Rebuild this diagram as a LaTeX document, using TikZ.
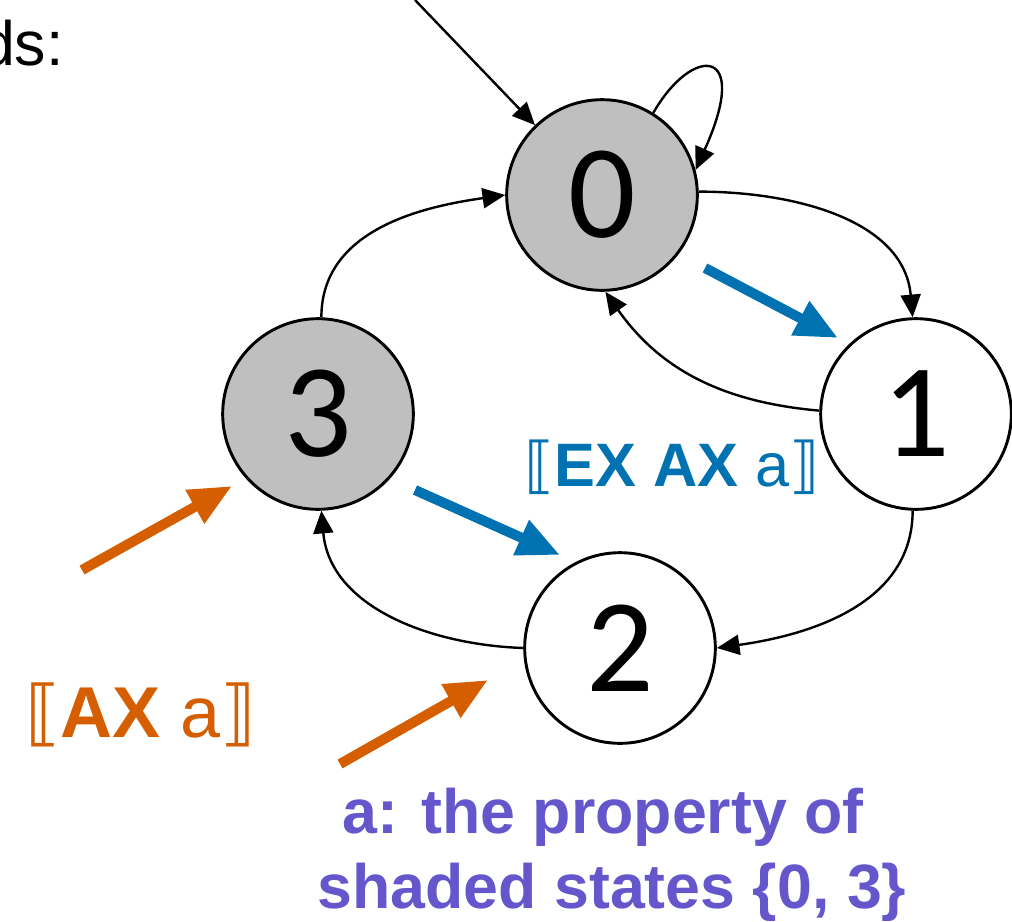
\documentclass[tikz,border=0pt]{standalone}
\usepackage{fontspec}
\setmainfont{Liberation Sans}
\newfontfamily\numfont{Carlito}
\newfontfamily\brfont{DejaVu Sans}
\usetikzlibrary{arrows.meta}
\definecolor{stgray}{HTML}{BFBFBF}
\definecolor{myblue}{HTML}{0072B2}
\definecolor{myorange}{HTML}{D55E00}
\definecolor{mypurple}{HTML}{6656CC}
\tikzset{
  state/.style={circle,draw=black,line width=2.2pt,minimum size=143pt,inner sep=0pt,font=\numfont\fontsize{100}{105}\selectfont},
  shaded/.style={state,fill=stgray},
  plain/.style={state,fill=white},
  edge/.style={line width=1.8pt,-{Triangle[length=17pt,width=15pt]}},
  fatarrow/.style={line width=7.5pt,-{Triangle[length=32pt,width=27pt]}},
  lbl/.style={inner sep=0pt,anchor=base west},
}
\newcommand{\lbr}{{\brfont\symbol{"27E6}}}
\newcommand{\rbr}{{\brfont\symbol{"27E7}}}
\begin{document}
\begin{tikzpicture}[x=0.75pt,y=-0.75pt]
\useasboundingbox (0,0) rectangle (1012,921);
\node[shaded] (n0) at (602,195) {0};
\node[plain] (n1) at (916,414) {1};
\node[plain] (n2) at (620,648) {2};
\node[shaded] (n3) at (318,414) {3};

\coordinate (init) at (415,0);
\draw[edge] (init) -- (n0);
\draw[edge] (n0.58) .. controls (692,45) and (752,45) .. (n0.15);
\draw[edge] (n3.88) to[out=90,in=188] (n0.180);
\draw[edge] (n0.2) to[out=0,in=95] (n1.92);
\draw[edge] (n1.178) to[out=175,in=-55] (n0.-88);
\draw[edge] (n1.-92) to[out=-90,in=8] (n2.0);
\draw[edge] (n2.180) to[out=178,in=-85] (n3.-88);

\coordinate (b1s) at (705,268);
\coordinate (b1e) at (838,338);
\coordinate (b2s) at (415,490);
\coordinate (b2e) at (560,555);
\draw[fatarrow,myblue] (b1s) -- (b1e);
\draw[fatarrow,myblue] (b2s) -- (b2e);
\coordinate (o1s) at (82,570);
\coordinate (o1e) at (232,486);
\coordinate (o2s) at (340,764);
\coordinate (o2e) at (488,680);
\draw[fatarrow,myorange] (o1s) -- (o1e);
\draw[fatarrow,myorange] (o2s) -- (o2e);

\node[inner sep=0pt,anchor=base east,font=\fontsize{47}{56}\selectfont] (ds) at (64,65) {ds:};
\node[lbl,text=myblue,font=\fontsize{46}{56}\selectfont] (lblue) at (524,486) {\lbr\textbf{EX AX} a\rbr};
\node[lbl,text=myorange,font=\fontsize{54}{64}\selectfont] (lorange) at (25,737) {\lbr\textbf{AX} a\rbr};
\node[inner sep=0pt,anchor=base,text=mypurple,font=\bfseries\fontsize{47}{56}\selectfont] (p1) at (603,833) {a: the property of};
\node[inner sep=0pt,anchor=base,text=mypurple,font=\bfseries\fontsize{47}{56}\selectfont] (p2) at (612,908) {shaded states \{0, 3\}};
\end{tikzpicture}
\end{document}
